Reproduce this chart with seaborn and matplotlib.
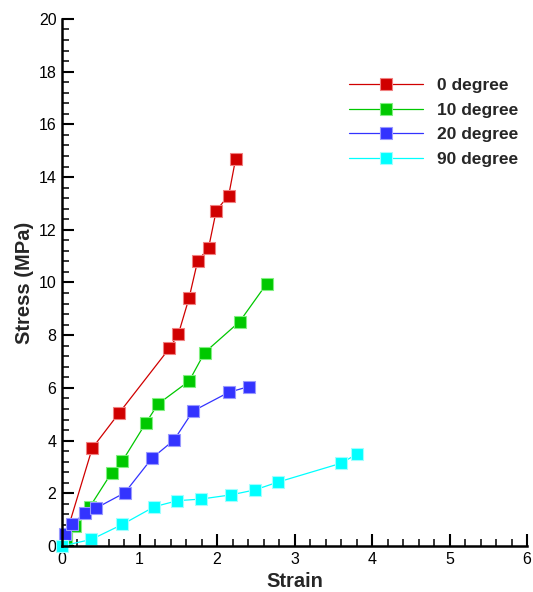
import matplotlib
matplotlib.use("Agg")
import matplotlib.pyplot as plt
import seaborn as sns
import pandas as pd
from matplotlib.ticker import MultipleLocator

sns.set_style("white")
plt.rcParams['font.family'] = ['Liberation Sans', 'DejaVu Sans']

labels = ["0 degree", "10 degree", "20 degree", "90 degree"]
colors = ["#D00000", "#00C800", "#3333FF", "#00FFFF"]
edge_colors = ["#F08080", "#80F080", "#9999FF", "#A0FFFF"]

strain_0 = [0.05, 0.39, 0.735, 1.385, 1.50, 1.64, 1.75, 1.89, 1.99, 2.15, 2.24]
stress_0 = [0.40, 3.71, 5.04, 7.50, 8.03, 9.42, 10.82, 11.30, 12.73, 13.30, 14.69]

strain_10 = [0.05, 0.17, 0.36, 0.64, 0.78, 1.08, 1.24, 1.64, 1.84, 2.29, 2.64]
stress_10 = [0.30, 0.77, 1.49, 2.78, 3.23, 4.66, 5.39, 6.26, 7.34, 8.51, 9.95]

strain_20 = [0.04, 0.13, 0.30, 0.435, 0.81, 1.16, 1.445, 1.69, 2.15, 2.41]
stress_20 = [0.46, 0.83, 1.26, 1.43, 2.02, 3.33, 4.02, 5.12, 5.83, 6.05]

strain_90 = [0.0, 0.38, 0.78, 1.19, 1.49, 1.79, 2.18, 2.49, 2.78, 3.60, 3.80]
stress_90 = [0.0, 0.25, 0.82, 1.49, 1.72, 1.78, 1.94, 2.13, 2.42, 3.14, 3.48]

series = [(strain_0, stress_0), (strain_10, stress_10), (strain_20, stress_20), (strain_90, stress_90)]

fig = plt.figure(figsize=(5.33, 5.92), dpi=100)
ax = fig.add_axes([0.1163, 0.0777, 0.8727, 0.8903])

for (xs, ys), lab, c, ec in zip(series, labels, colors, edge_colors):
    df = pd.DataFrame({"Strain": xs, "Stress": ys})
    sns.lineplot(data=df, x="Strain", y="Stress", ax=ax, sort=False, color=c,
                 linewidth=0.9, marker="s", markersize=8.5, markeredgecolor=ec,
                 markeredgewidth=0.8, label=lab, clip_on=False)

ax.set_xlim(0, 6)
ax.set_ylim(0, 20)
ax.xaxis.set_major_locator(MultipleLocator(1))
ax.xaxis.set_minor_locator(MultipleLocator(0.2))
ax.yaxis.set_major_locator(MultipleLocator(2))
ax.yaxis.set_minor_locator(MultipleLocator(0.4))

for s in ["top", "right"]:
    ax.spines[s].set_visible(False)
for s in ["left", "bottom"]:
    ax.spines[s].set_linewidth(1.8)
    ax.spines[s].set_color("black")

ax.tick_params(which="major", direction="in", length=8.5, width=1.5, labelsize=11.5,
               colors="black", pad=4)
ax.tick_params(which="minor", direction="in", length=5, width=1.1, colors="black")
ax.tick_params(axis="x", which="both", bottom=True)
ax.tick_params(axis="y", which="both", left=True)

ax.set_xlabel("Strain", fontsize=14.5, fontweight="bold", labelpad=4)
ax.set_ylabel("Stress (MPa)", fontsize=14.5, fontweight="bold", labelpad=3)

leg = ax.legend(loc="upper left", bbox_to_anchor=(0.583, 0.918), frameon=False,
                prop={"size": 12.5, "weight": "bold"}, handlelength=4.3,
                handletextpad=0.8, labelspacing=0.55)

fig.savefig("out.png", dpi=100)
